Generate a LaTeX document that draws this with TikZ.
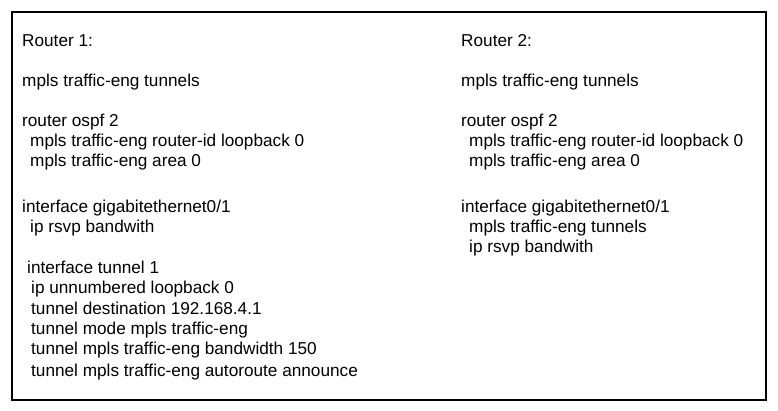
\documentclass[tikz,border=0pt]{standalone}
\usepackage{fontspec}
\setmainfont{Liberation Sans}
\begin{document}
\begin{tikzpicture}[x=1pt,y=-1pt,ln/.style={anchor=base west,inner sep=0pt,font=\fontsize{17.2}{20}\selectfont}]
\useasboundingbox (0,0) rectangle (778,411);
\draw[line width=2.8pt] (12,12) rectangle (766,400);
\foreach \t/\x/\y [count=\i] in {
 {Router 1:}/22/47,
 {mpls traffic-eng tunnels}/22/87,
 {router ospf 2}/22/127,
 {mpls traffic-eng router-id loopback 0}/30/147,
 {mpls traffic-eng area 0}/30/167,
 {interface gigabitethernet0/1}/22/213,
 {ip rsvp bandwith}/30/233,
 {interface tunnel 1}/27/274,
 {ip unnumbered loopback 0}/31/294,
 {tunnel destination 192.168.4.1}/31/314,
 {tunnel mode mpls traffic-eng}/31/334,
 {tunnel mpls traffic-eng bandwidth 150}/31/354,
 {tunnel mpls traffic-eng autoroute announce}/31/376,
 {Router 2:}/461/47,
 {mpls traffic-eng tunnels}/461/87,
 {router ospf 2}/461/127,
 {mpls traffic-eng router-id loopback 0}/469/147,
 {mpls traffic-eng area 0}/469/167,
 {interface gigabitethernet0/1}/461/213,
 {mpls traffic-eng tunnels}/469/233,
 {ip rsvp bandwith}/469/253}
 \node[ln] (l\i) at (\x,\y) {\t};
\end{tikzpicture}
\end{document}
